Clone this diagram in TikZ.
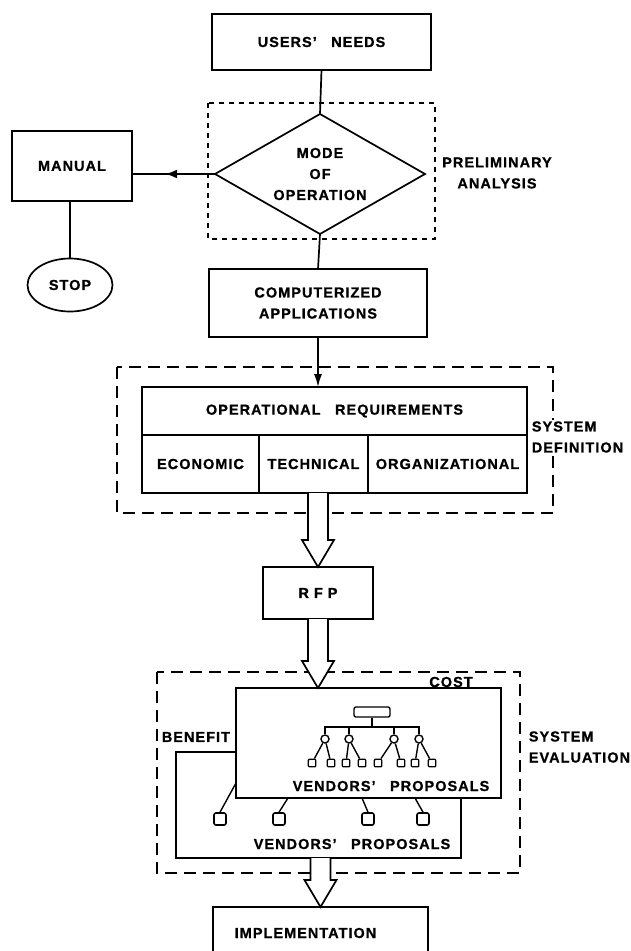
\documentclass[tikz,border=0pt]{standalone}
\usepackage{fontspec}
\setmainfont{Liberation Sans}[LetterSpace=7, BoldFeatures={FakeBold=0.9}]
\usetikzlibrary{shapes.geometric,arrows.meta,decorations.markings,calc}
\newcommand\hollowarrow[2]{\draw[hollow] let \p1=#2, \p2=#1 in
  (\x1-10pt,\y2) -- (\x1-10pt,\y1+27pt) -- (\x1-16pt,\y1+27pt) -- (\p1) --
  (\x1+16pt,\y1+27pt) -- (\x1+10pt,\y1+27pt) -- (\x1+10pt,\y2);}
\begin{document}
\begin{tikzpicture}[x=1pt,y=-1pt,
  font=\fontsize{14.5}{21}\selectfont\bfseries,
  line width=1.7pt,
  box/.style={draw, rectangle, inner sep=0pt, outer sep=0pt, align=center, fill=white},
  lbl/.style={inner sep=1pt, align=center},
  finedash/.style={line width=1.2pt, dash pattern=on 5pt off 5pt},
  longdash/.style={line width=1.4pt, dash pattern=on 12pt off 7pt},
  hollow/.style={draw, fill=white, line width=1.7pt, line join=miter},
  dot/.style={circle, draw, line width=1.4pt, minimum size=8pt, inner sep=0pt, fill=white},
  leaf/.style={rectangle, draw, line width=1.4pt, rounded corners=1pt, minimum size=7.5pt, inner sep=0pt, fill=white},
  bsq/.style={rectangle, draw, line width=1.6pt, rounded corners=2pt, minimum size=12pt, inner sep=0pt, fill=white},
  thin/.style={line width=1.4pt}
]
\useasboundingbox (0,0) rectangle (631,951);

% top part
\node[box, minimum width=219pt, minimum height=56pt] (users) at (321.5,42) {USERS'\quad NEEDS};
\draw[finedash] (208,103) rectangle (435,239);
\node[diamond, draw, fill=white, inner sep=0pt, outer sep=0pt, aspect=1.75,
      minimum width=210pt, minimum height=120pt, align=center] (mode) at (320,174) {MODE\\OF\\OPERATION};
\node[lbl] (prelim) at (497,173) {PRELIMINARY\\ANALYSIS};
\draw (users.south) -- (mode.north);

\node[box, minimum width=120pt, minimum height=70pt] (manual) at (72,166) {MANUAL};
\node[ellipse, draw, minimum width=85pt, minimum height=53pt, inner sep=0pt, outer sep=0pt] (stop) at (70,285) {STOP};
\draw[postaction={decorate}, decoration={markings, mark=at position 0.6 with {\arrow{Latex[length=12pt,width=9pt]}}}]
  (mode.west) -- (manual.east |- mode.west);
\draw (stop.north |- manual.south) -- (stop.north);

\node[box, minimum width=218pt, minimum height=68pt] (comp) at (318,303) {COMPUTERIZED\\APPLICATIONS};
\draw (mode.south) -- (comp.north);

% system definition
\draw[longdash] (117,367) rectangle (553,513);
\node[box, minimum width=385pt, minimum height=48pt] (opreq) at (334.5,411) {OPERATIONAL\quad REQUIREMENTS};
\node[box, minimum width=117pt, minimum height=58pt] (econ) at (200.5,464) {ECONOMIC};
\node[box, minimum width=109pt, minimum height=58pt] (tech) at (313.5,464) {TECHNICAL};
\node[box, minimum width=159pt, minimum height=58pt] (org) at (447.5,464) {ORGANIZATIONAL};
\node[lbl, fill=white, anchor=west, align=left] (sysdef) at (530,437) {SYSTEM\\DEFINITION};
\draw[-{Latex[length=13pt,width=8pt]}] (comp.south) -- (comp.south |- opreq.north);

% RFP
\node[box, minimum width=110pt, minimum height=52pt] (rfp) at (318,593) {R\hspace{5pt}F\hspace{5pt}P};
\hollowarrow{(tech.south)}{(rfp.north)}

% system evaluation
\draw[longdash] (157,672) rectangle (520,873);
\node[box, minimum width=285pt, minimum height=106pt] (benefit) at (318.5,805) {};
\node[box, minimum width=265pt, minimum height=110pt] (cost) at (368.5,743) {};
\hollowarrow{(rfp.south)}{(rfp.south |- cost.north)}
\node[lbl] (costlbl) at (451,682) {COST};
\node[lbl, anchor=west] (benlbl) at (160,737) {BENEFIT};
\node[lbl, anchor=west, align=left] (syseval) at (527,747) {SYSTEM\\EVALUATION};

% tree in cost box
\node[draw, thin, rounded corners=2pt, minimum width=36pt, minimum height=10pt, inner sep=0pt] (root) at (372,712) {};
\coordinate (bar) at (372,727);
\node[dot] (c1) at (325,739) {};
\node[dot] (c2) at (349,739) {};
\node[dot] (c3) at (394,739) {};
\node[dot] (c4) at (419,739) {};
\draw[thin] (root.south) -- (bar);
\foreach \c in {c1,c2,c3,c4} \draw[thin] (\c.north) |- (bar);
\node[leaf] (l1) at (312,763) {};
\node[leaf] (l2) at (331,763) {};
\node[leaf] (l3) at (346,763) {};
\node[leaf] (l4) at (362,763) {};
\node[leaf] (l5) at (378,763) {};
\node[leaf] (l6) at (401,763) {};
\node[leaf] (l7) at (415,763) {};
\node[leaf] (l8) at (432,763) {};
\draw[thin] (c1) -- (l1) (c1) -- (l2) (c2) -- (l3) (c2) -- (l4)
            (c3) -- (l5) (c3) -- (l6) (c4) -- (l7) (c4) -- (l8);
\node (vp1) at (391,786) {VENDORS'\quad PROPOSALS};

% benefit squares
\node[bsq] (b1) at (220,819) {};
\node[bsq] (b2) at (279,819) {};
\node[bsq] (b3) at (368,819) {};
\node[bsq] (b4) at (423,819) {};
\coordinate (e1) at (236,783);
\coordinate (e2) at (288,798);
\coordinate (e3) at (362,798);
\coordinate (e4) at (415,798);
\draw[thin] (b1.north) -- (e1) (b2.north) -- (e2) (b3.north) -- (e3) (b4.north) -- (e4);
\node (vp2) at (352,844) {VENDORS'\quad PROPOSALS};

% implementation
\node[box, minimum width=215pt, minimum height=52pt] (impl) at (320.5,933) {IMPLEMENTATION\hspace*{30pt}};
\hollowarrow{(benefit.south)}{(impl.north)}
\end{tikzpicture}
\end{document}
